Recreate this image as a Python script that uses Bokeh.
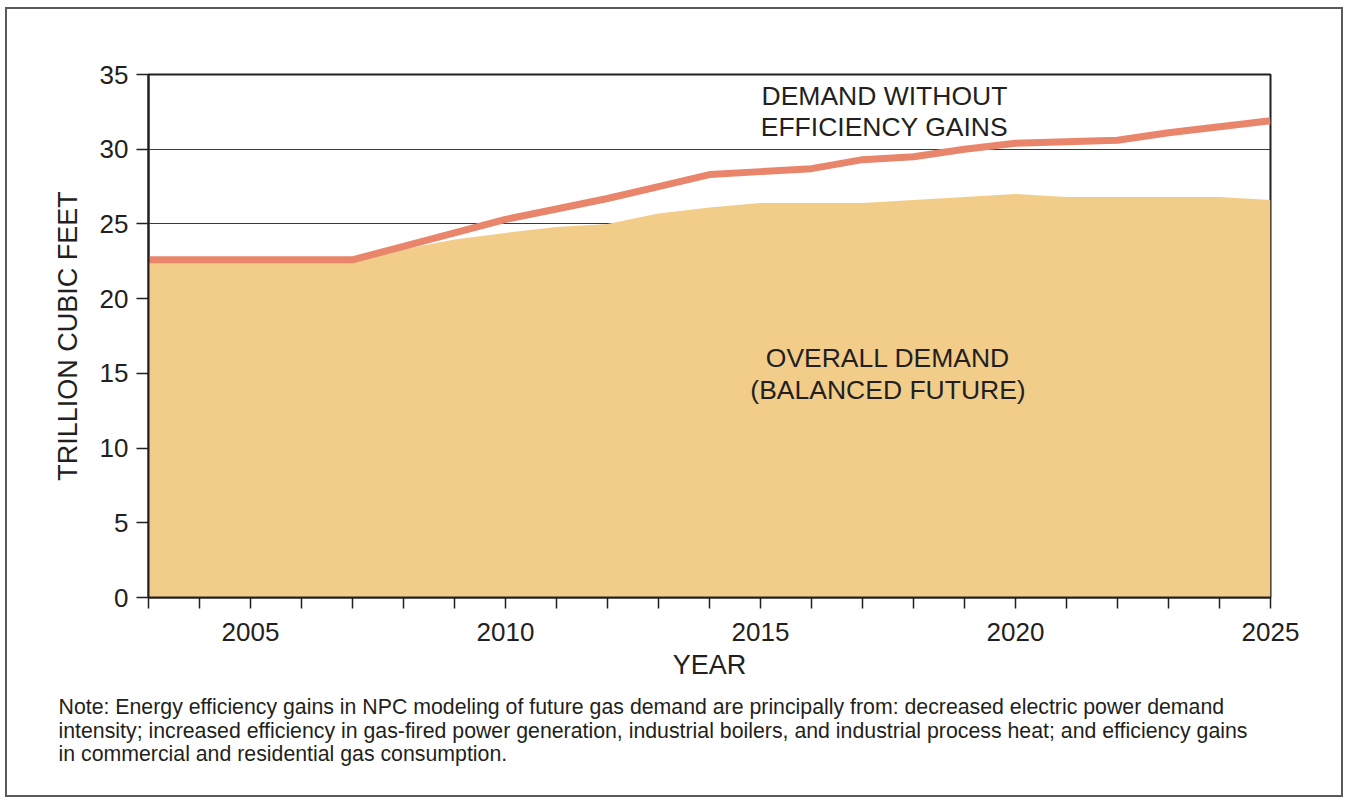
from bokeh.plotting import figure
from bokeh.models import FixedTicker, Label, Range1d, Title
from bokeh.embed import file_html
from bokeh.resources import INLINE

years = list(range(2003, 2026))
overall_demand = [22.4, 22.4, 22.4, 22.4, 22.5, 23.3, 23.95, 24.4, 24.8, 25.0, 25.7, 26.1,
                  26.4, 26.4, 26.4, 26.6, 26.8, 27.0, 26.8, 26.8, 26.8, 26.8, 26.6]
without_efficiency = [22.6, 22.6, 22.6, 22.6, 22.6, 23.5, 24.4, 25.3, 26.0, 26.7, 27.5, 28.3,
                      28.5, 28.7, 29.3, 29.5, 30.0, 30.4, 30.5, 30.6, 31.1, 31.5, 31.9]
y_ticks = [0, 5, 10, 15, 20, 25, 30, 35]
x_label_years = [2005, 2010, 2015, 2020, 2025]
note_lines = [
    "Note: Energy efficiency gains in NPC modeling of future gas demand are principally from: decreased electric power demand",
    "intensity; increased efficiency in gas-fired power generation, industrial boilers, and industrial process heat; and efficiency gains",
    "in commercial and residential gas consumption.",
]

FONT = "Liberation Sans"
TXT = "#231f20"

p = figure(width=1338, height=790, x_range=Range1d(2003, 2025), y_range=Range1d(0, 35),
           output_backend="svg", toolbar_location=None,
           min_border_left=141, min_border_right=75, min_border_top=65, min_border_bottom=202)
p.styles = {"border": "2px solid #5a5a5a", "margin-left": "5px", "margin-top": "7px"}
p.background_fill_color = "white"
p.border_fill_color = "white"
p.outline_line_color = "#231f20"
p.outline_line_width = 2

p.varea(x=years, y1=0, y2=overall_demand, fill_color="#f2cd8a", fill_alpha=1.0)
p.line(x=years, y=without_efficiency, line_color="#e8856b", line_width=7)

# axes
p.xaxis.ticker = FixedTicker(ticks=years)
p.xaxis.major_label_overrides = {y: (str(y) if y in x_label_years else "") for y in years}
p.yaxis.ticker = FixedTicker(ticks=y_ticks)
for ax in (p.xaxis[0], p.yaxis[0]):
    ax.axis_line_color = "#231f20"
    ax.axis_line_width = 2
    ax.major_tick_line_color = "#231f20"
    ax.major_tick_line_width = 1.5
    ax.major_tick_in = 0
    ax.minor_tick_line_color = None
    ax.major_label_text_font = FONT
    ax.major_label_text_font_size = "26px"
    ax.major_label_text_color = TXT
    ax.axis_label_text_font = FONT
    ax.axis_label_text_font_size = "27px"
    ax.axis_label_text_font_style = "normal"
    ax.axis_label_text_color = TXT
p.xaxis.major_tick_out = 11
p.yaxis.major_tick_out = 12
p.xaxis.major_label_standoff = 14
p.yaxis.major_label_standoff = 8
p.xaxis.axis_label = "YEAR"
p.yaxis.axis_label = "TRILLION CUBIC FEET"
p.xaxis.axis_label_standoff = 6
p.yaxis.axis_label_standoff = 14

p.xgrid.grid_line_color = None
p.ygrid.grid_line_color = "#3a3a3a"
p.ygrid.grid_line_width = 1

for txt, x, y in [("DEMAND WITHOUT", 2017.43, 33.55), ("EFFICIENCY GAINS", 2017.43, 31.5),
                  ("OVERALL DEMAND", 2017.5, 16.05), ("(BALANCED FUTURE)", 2017.5, 13.9)]:
    p.add_layout(Label(x=x, y=y, text=txt, text_align="center", text_baseline="middle",
                       text_font=FONT, text_font_size="26.5px", text_color=TXT))

note = Title(text="\n".join(note_lines), align="left", offset=-90, standoff=21,
             text_font=FONT, text_font_size="21.3px", text_font_style="normal",
             text_color=TXT, text_line_height=0.97)
p.add_layout(note, "below")

open("out.html", "w").write(file_html(p, INLINE))
